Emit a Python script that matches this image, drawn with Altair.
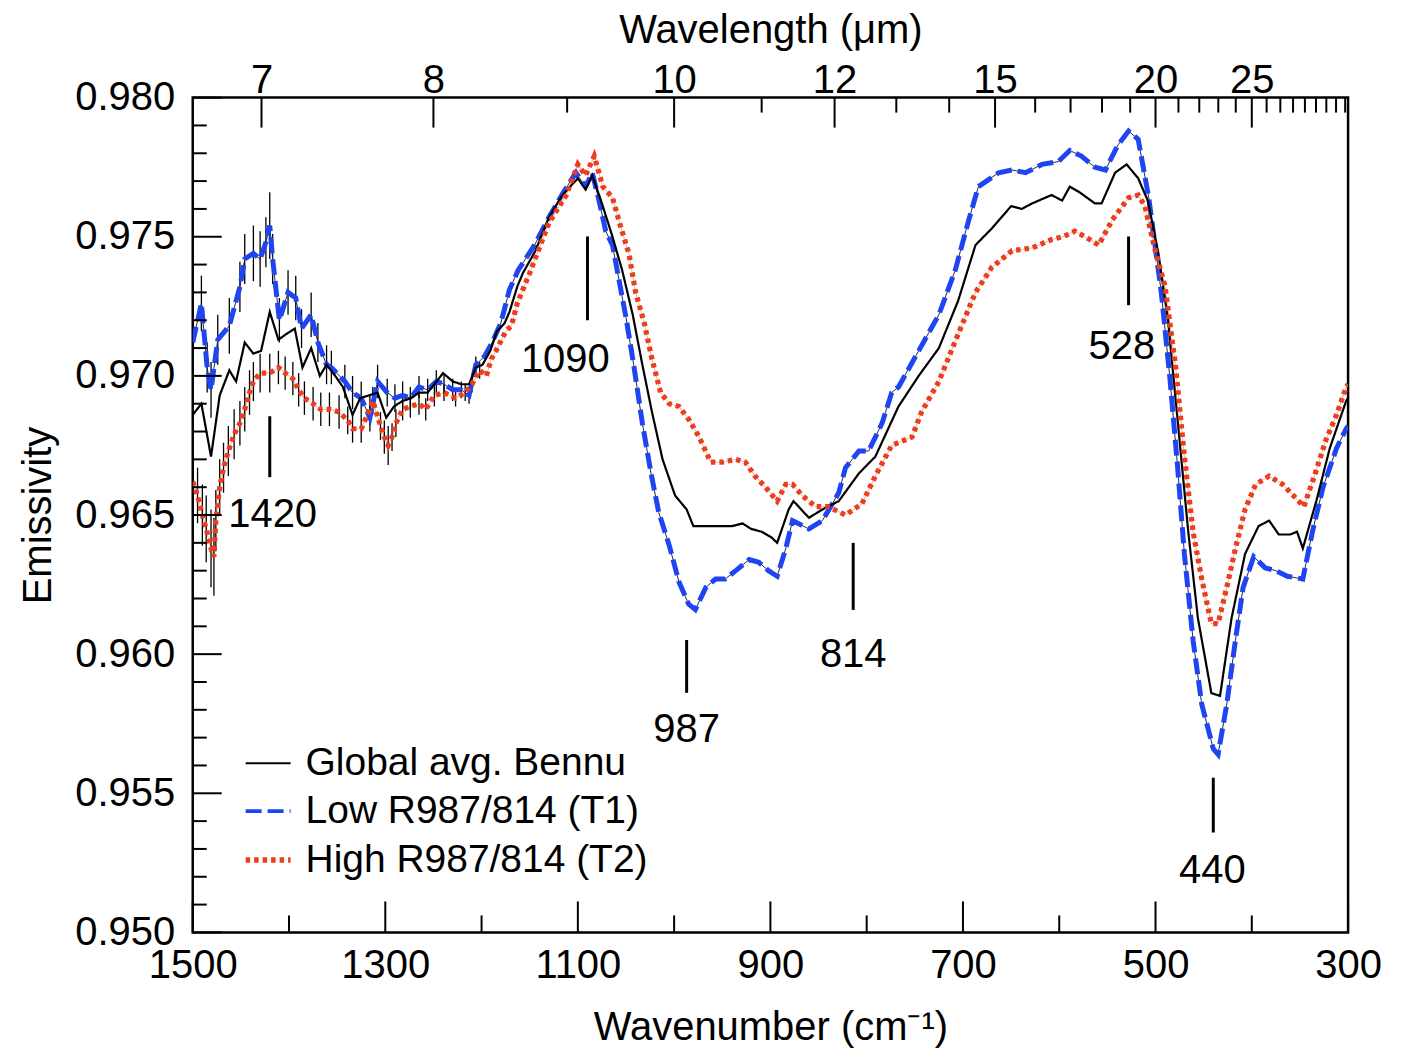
import altair as alt
import pandas as pd

FONT = "Liberation Sans"
BLUE = "#1f45f2"
RED = "#ec3d1c"

# ---------------- data ----------------
names = ["Global avg. Bennu", "Low R987/814 (T1)", "High R987/814 (T2)"]
line_widths = [2.2, 5.0, 5.2]

wn_global = [1500, 1491, 1481, 1472, 1462, 1455, 1446, 1437, 1429, 1420,
             1411, 1403, 1394, 1386, 1377, 1368, 1361, 1352, 1344, 1334,
             1326, 1317, 1308, 1299, 1291, 1282, 1273, 1265, 1256, 1249,
             1240, 1230, 1221, 1213, 1206, 1199, 1191, 1184, 1176, 1171,
             1163, 1157, 1144, 1130, 1116, 1100, 1092, 1085, 1075, 1064,
             1054, 1043, 1033, 1023, 1012, 999, 987, 980, 972, 960,
             950, 940, 929, 920, 909, 899, 893, 881, 876, 860,
             846, 829, 808, 791, 767, 746, 725, 705, 687, 670,
             650, 639, 628, 608, 597, 589, 579, 563, 556, 542,
             530, 518, 508, 497, 487, 477, 466, 456, 442, 433,
             421, 407, 393, 382, 372, 360, 353, 347, 333, 319,
             302, 300]
em_global = [0.9686, 0.9690, 0.9671, 0.9693, 0.9702, 0.9698, 0.9712, 0.9708, 0.9709, 0.9723,
             0.9713, 0.9715, 0.9717, 0.9703, 0.9710, 0.9700, 0.9704, 0.9700, 0.9696, 0.9686,
             0.9692, 0.9693, 0.9694, 0.9685, 0.9689, 0.9691, 0.9692, 0.9694, 0.9694, 0.9697,
             0.9701, 0.9698, 0.9697, 0.9697, 0.9703, 0.9704, 0.9709, 0.9716, 0.9719, 0.9723,
             0.9732, 0.9737, 0.9745, 0.9757, 0.9765, 0.9771, 0.9767, 0.9772, 0.9762, 0.9750,
             0.9738, 0.9722, 0.9704, 0.9687, 0.9670, 0.9657, 0.9652, 0.9646, 0.9646, 0.9646,
             0.9646, 0.9646, 0.9647, 0.9645, 0.9644, 0.9642, 0.9640, 0.9652, 0.9655, 0.9649,
             0.9652, 0.9655, 0.9665, 0.9671, 0.9689, 0.9700, 0.9710, 0.9727, 0.9747, 0.9753,
             0.9761, 0.9760, 0.9762, 0.9765, 0.9763, 0.9768, 0.9766, 0.9762, 0.9762, 0.9773,
             0.9776, 0.9771, 0.9763, 0.9744, 0.9720, 0.9684, 0.9644, 0.9613, 0.9586, 0.9585,
             0.9613, 0.9636, 0.9646, 0.9648, 0.9643, 0.9643, 0.9644, 0.9638, 0.9655, 0.9674,
             0.9691, 0.9692]

wn_t1 = [1500, 1491, 1485, 1481, 1474, 1462, 1451, 1446, 1437, 1430,
         1424, 1420, 1417, 1410, 1401, 1393, 1387, 1377, 1370, 1361,
         1356, 1342, 1334, 1325, 1316, 1308, 1298, 1290, 1282, 1274,
         1265, 1256, 1247, 1239, 1230, 1221, 1213, 1206, 1197, 1189,
         1180, 1171, 1162, 1145, 1130, 1115, 1102, 1092, 1085, 1078,
         1071, 1064, 1057, 1050, 1042, 1033, 1024, 1016, 1005, 995,
         985, 978, 967, 957, 947, 936, 922, 912, 902, 893,
         884, 877, 860, 846, 829, 822, 808, 798, 784, 774,
         767, 746, 725, 708, 694, 684, 663, 649, 635, 618,
         601, 589, 577, 563, 552, 539, 528, 518, 507, 494,
         485, 477, 470, 461, 452, 440, 435, 426, 417, 409,
         398, 386, 375, 363, 347, 337, 326, 312, 302, 300]
em_t1 = [0.9712, 0.9726, 0.9703, 0.9695, 0.9713, 0.9718, 0.9732, 0.9742, 0.9744, 0.9742,
         0.9748, 0.9754, 0.9742, 0.9720, 0.9730, 0.9728, 0.9717, 0.9722, 0.9712, 0.9704,
         0.9703, 0.9698, 0.9694, 0.9692, 0.9685, 0.9698, 0.9694, 0.9692, 0.9693, 0.9692,
         0.9696, 0.9695, 0.9698, 0.9697, 0.9695, 0.9695, 0.9693, 0.9704, 0.9707, 0.9712,
         0.9719, 0.9731, 0.9738, 0.9747, 0.9757, 0.9766, 0.9773, 0.9768, 0.9773, 0.9763,
         0.9752, 0.9747, 0.9734, 0.9721, 0.9704, 0.9683, 0.9665, 0.9651, 0.9639, 0.9626,
         0.9618, 0.9616, 0.9624, 0.9627, 0.9627, 0.9630, 0.9634, 0.9633, 0.9630, 0.9628,
         0.9638, 0.9648, 0.9645, 0.9648, 0.9658, 0.9667, 0.9673, 0.9673, 0.9683, 0.9694,
         0.9696, 0.9709, 0.9722, 0.9738, 0.9756, 0.9768, 0.9773, 0.9774, 0.9773, 0.9776,
         0.9777, 0.9781, 0.9779, 0.9775, 0.9774, 0.9783, 0.9788, 0.9785, 0.9764, 0.9730,
         0.9699, 0.9667, 0.9636, 0.9605, 0.9582, 0.9566, 0.9564, 0.9582, 0.9605, 0.9624,
         0.9635, 0.9631, 0.9630, 0.9628, 0.9627, 0.9644, 0.9660, 0.9674, 0.9681, 0.9682]

wn_t2 = [1500, 1495, 1490, 1486, 1481, 1478, 1476, 1472, 1468, 1463,
         1457, 1451, 1446, 1441, 1437, 1430, 1420, 1411, 1404, 1396,
         1390, 1384, 1375, 1367, 1358, 1348, 1339, 1334, 1325, 1316,
         1313, 1305, 1301, 1297, 1293, 1289, 1282, 1274, 1265, 1258,
         1249, 1239, 1227, 1217, 1210, 1202, 1195, 1190, 1185, 1175,
         1169, 1163, 1150, 1130, 1112, 1100, 1092, 1083, 1074, 1064,
         1055, 1047, 1040, 1031, 1023, 1014, 1005, 995, 984, 974,
         962, 950, 936, 926, 916, 905, 893, 884, 877, 867,
         853, 840, 822, 805, 791, 774, 753, 743, 725, 705,
         687, 670, 649, 628, 608, 596, 584, 573, 559, 545,
         528, 518, 511, 501, 490, 479, 470, 461, 452, 442,
         435, 426, 417, 407, 396, 382, 368, 354, 346, 335,
         323, 312, 302, 300]
em_t2 = [0.9662, 0.9657, 0.9650, 0.9645, 0.9638, 0.9635, 0.9648, 0.9660, 0.9667, 0.9673,
         0.9679, 0.9683, 0.9688, 0.9694, 0.9698, 0.9701, 0.9701, 0.9703, 0.9701, 0.9699,
         0.9695, 0.9692, 0.9690, 0.9688, 0.9688, 0.9687, 0.9684, 0.9681, 0.9681, 0.9688,
         0.9691, 0.9682, 0.9678, 0.9675, 0.9678, 0.9683, 0.9688, 0.9689, 0.9690, 0.9688,
         0.9693, 0.9694, 0.9692, 0.9694, 0.9697, 0.9702, 0.9700, 0.9706, 0.9709, 0.9716,
         0.9718, 0.9726, 0.9737, 0.9755, 0.9765, 0.9776, 0.9772, 0.9779, 0.9768, 0.9764,
         0.9753, 0.9744, 0.9730, 0.9719, 0.9706, 0.9694, 0.9690, 0.9689, 0.9684, 0.9678,
         0.9669, 0.9669, 0.9670, 0.9669, 0.9664, 0.9660, 0.9655, 0.9661, 0.9661, 0.9657,
         0.9653, 0.9653, 0.9650, 0.9654, 0.9664, 0.9675, 0.9678, 0.9687, 0.9698, 0.9715,
         0.9730, 0.9739, 0.9745, 0.9746, 0.9749, 0.9750, 0.9752, 0.9750, 0.9747, 0.9756,
         0.9764, 0.9765, 0.9761, 0.9746, 0.9732, 0.9703, 0.9671, 0.9644, 0.9627, 0.9611,
         0.9611, 0.9624, 0.9638, 0.9652, 0.9661, 0.9664, 0.9661, 0.9656, 0.9653, 0.9664,
         0.9677, 0.9686, 0.9696, 0.9697]

# error-bar half widths for the first points of T1 and T2 (noisy short-wavelength end)
err_t1 = [0.0010, 0.0010, 0.0009, 0.0010, 0.0009, 0.0010, 0.0009, 0.0009, 0.0010, 0.0010,
          0.0009, 0.0012, 0.0009, 0.0008, 0.0008, 0.0008, 0.0007, 0.0008, 0.0007, 0.0007,
          0.0006, 0.0006, 0.0006, 0.0006, 0.0005, 0.0006, 0.0005, 0.0005, 0.0005, 0.0004,
          0.0004, 0.0004, 0.0004, 0.0004, 0.0004, 0.0003, 0.0003, 0.0003]
err_t2 = [0.0010, 0.0010, 0.0011, 0.0012, 0.0014, 0.0014, 0.0011, 0.0010, 0.0009, 0.0009,
          0.0009, 0.0008, 0.0008, 0.0008, 0.0007, 0.0007, 0.0007, 0.0006, 0.0006, 0.0006,
          0.0006, 0.0006, 0.0006, 0.0006, 0.0006, 0.0006, 0.0005, 0.0005, 0.0005, 0.0005,
          0.0005, 0.0005, 0.0006, 0.0007, 0.0005, 0.0005, 0.0004, 0.0004, 0.0004, 0.0004,
          0.0004, 0.0003, 0.0003, 0.0003, 0.0003, 0.0003]

# band annotations
ann_label = ["1420", "1090", "987", "814", "528", "440"]
ann_wn = [1420, 1090, 987, 814, 528, 440]
ann_top = [0.96855, 0.97501, 0.96051, 0.96400, 0.97501, 0.95556]
ann_bottom = [0.96636, 0.97200, 0.95861, 0.96159, 0.97254, 0.95359]
ann_label_wn = [1417, 1113, 987, 814, 535, 441]
ann_label_em = [0.96500, 0.97056, 0.95728, 0.95998, 0.97103, 0.95219]

# axes
y_major = [0.950, 0.955, 0.960, 0.965, 0.970, 0.975, 0.980]
y_minor = [round(0.950 + 0.001 * i, 3) for i in range(31) if i % 5 != 0]
x_major = [1500, 1300, 1100, 900, 700, 500, 300]
x_minor = [1400, 1200, 1000, 800, 600, 400]
wl_major = [7, 8, 10, 12, 15, 20, 25]
wl_minor = [9, 11, 13, 14, 16, 17, 18, 19, 21, 22, 23, 24, 26, 27, 28, 29, 30, 31, 32, 33]

# ---------------- build tables ----------------
rows = []
for nm, wns, ems in [(names[0], wn_global, em_global), (names[1], wn_t1, em_t1), (names[2], wn_t2, em_t2)]:
    for i, (w, e) in enumerate(zip(wns, ems)):
        rows.append({"series": nm, "wn": w, "em": e, "idx": i})
df = pd.DataFrame(rows)

err_rows = []
for wns, ems, errs in [(wn_t1, em_t1, err_t1), (wn_t2, em_t2, err_t2)]:
    for w, e, r in zip(wns, ems, errs):
        err_rows.append({"wn": w, "lo": e - r, "hi": e + r})
df_err = pd.DataFrame(err_rows)

df_ann = pd.DataFrame({"label": ann_label, "wn": ann_wn, "top": ann_top, "bot": ann_bottom,
                       "lwn": ann_label_wn, "lem": ann_label_em})

W, H = 1157, 836
XS = alt.Scale(domain=[300, 1500], reverse=True, nice=False, zero=False)
YS = alt.Scale(domain=[0.950, 0.980], nice=False, zero=False)

leg = alt.Legend(title=None, orient="none", legendX=50, legendY=643, symbolType="stroke",
                 symbolSize=2025, labelFontSize=39, labelFont=FONT, labelColor="black",
                 labelLimit=0, rowPadding=3, labelOffset=12, padding=0)
color = alt.Color("series:N", scale=alt.Scale(domain=names, range=["black", BLUE, RED]), legend=leg)
dash = alt.StrokeDash("series:N", scale=alt.Scale(domain=names, range=[[1, 0], [16, 6], [4.5, 4]]), legend=leg)
# legend-only width scale (point scale: Global 2, T1 ~3.8, T2 ~5.6)
lwidth = alt.StrokeWidth("series:N", scale=alt.Scale(domain=names, range=[2.0, 5.6]), legend=leg)

bottom_axis = alt.Axis(values=x_major, format="d", ticks=False, domain=False, labelFontSize=40,
                       labelPadding=13, title="Wavenumber (cm⁻¹)", titleFontSize=40,
                       titleFontWeight="normal", titlePadding=22, labelFlush=False)
left_axis = alt.Axis(values=y_major, format=".3f", ticks=False, domain=False, labelFontSize=40,
                     labelPadding=18, title="Emissivity", titleFontSize=40,
                     titleFontWeight="normal", titlePadding=16, labelFlush=False)
top_axis = alt.Axis(orient="top", values=[10000 / w for w in wl_major],
                    labelExpr="round(10000 / datum.value)", ticks=False, domain=False,
                    labelFontSize=40, labelPadding=5, labelBaseline="alphabetic",
                    title="Wavelength (μm)", titleFontSize=40,
                    titleFontWeight="normal", titlePadding=10, labelFlush=False)

layers = []

# error bars (also carries the left and bottom axes)
layers.append(
    alt.Chart(df_err).mark_rule(color="black", strokeWidth=1.3, clip=True).encode(
        x=alt.X("wn:Q", scale=XS, axis=bottom_axis),
        y=alt.Y("lo:Q", scale=YS, axis=left_axis),
        y2="hi:Q",
    )
)

# legend carrier (draws nothing)
layers.append(
    alt.Chart(df).transform_filter("false").mark_line().encode(
        x=alt.X("wn:Q", scale=XS, axis=None),
        y=alt.Y("em:Q", scale=YS, axis=None),
        color=color, strokeDash=dash, strokeWidth=lwidth,
    )
)

# thin dark trace under the T1 spectrum
layers.append(
    alt.Chart(df).transform_filter(alt.datum.series == names[1])
    .mark_line(clip=True, strokeWidth=1.0, color="#2a2a3a").encode(
        x=alt.X("wn:Q", scale=XS, axis=None),
        y=alt.Y("em:Q", scale=YS, axis=None),
        order="idx:Q",
    )
)
# very faint trace under the T2 spectrum
layers.append(
    alt.Chart(df).transform_filter(alt.datum.series == names[2])
    .mark_line(clip=True, strokeWidth=0.6, color="#6a1a10", opacity=0.5).encode(
        x=alt.X("wn:Q", scale=XS, axis=None),
        y=alt.Y("em:Q", scale=YS, axis=None),
        order="idx:Q",
    )
)

# spectra (draw T1, then global, then T2)
for nm in [names[1], names[0], names[2]]:
    sw = line_widths[names.index(nm)]
    layers.append(
        alt.Chart(df).transform_filter(alt.datum.series == nm)
        .mark_line(clip=True, strokeWidth=sw).encode(
            x=alt.X("wn:Q", scale=XS, axis=None),
            y=alt.Y("em:Q", scale=YS, axis=None),
            color=color, strokeDash=dash,
            order="idx:Q",
        )
    )

# annotations
layers.append(
    alt.Chart(df_ann).mark_rule(color="black", strokeWidth=3).encode(
        x=alt.X("wn:Q", scale=XS, axis=None),
        y=alt.Y("top:Q", scale=YS, axis=None),
        y2="bot:Q",
    )
)
layers.append(
    alt.Chart(df_ann).mark_text(font=FONT, fontSize=40, color="black", align="center",
                                baseline="middle").encode(
        x=alt.X("lwn:Q", scale=XS, axis=None),
        y=alt.Y("lem:Q", scale=YS, axis=None),
        text="label:N",
    )
)

# inward ticks: left
df_ymaj = pd.DataFrame({"v": y_major})
df_ymin = pd.DataFrame({"v": y_minor})
layers.append(alt.Chart(df_ymaj).mark_rule(color="black", strokeWidth=2).encode(
    y=alt.Y("v:Q", scale=YS, axis=None), x=alt.value(0), x2=alt.value(29)))
layers.append(alt.Chart(df_ymin).mark_rule(color="black", strokeWidth=2).encode(
    y=alt.Y("v:Q", scale=YS, axis=None), x=alt.value(0), x2=alt.value(14)))

# inward ticks: bottom
df_xmaj = pd.DataFrame({"v": x_major})
df_xmin = pd.DataFrame({"v": x_minor})
layers.append(alt.Chart(df_xmaj).mark_rule(color="black", strokeWidth=2).encode(
    x=alt.X("v:Q", scale=XS, axis=None), y=alt.value(H), y2=alt.value(H - 31)))
layers.append(alt.Chart(df_xmin).mark_rule(color="black", strokeWidth=2).encode(
    x=alt.X("v:Q", scale=XS, axis=None), y=alt.value(H), y2=alt.value(H - 17)))

# inward ticks: top (wavelength), carrying the top axis labels
df_wlmaj = pd.DataFrame({"wl": wl_major, "wnp": [10000 / w for w in wl_major]})
df_wlmin = pd.DataFrame({"wl": wl_minor, "wnp": [10000 / w for w in wl_minor]})
layers.append(alt.Chart(df_wlmaj).mark_rule(color="black", strokeWidth=2).encode(
    x=alt.X("wnp:Q", scale=XS, axis=top_axis), y=alt.value(0), y2=alt.value(30)))
layers.append(alt.Chart(df_wlmin).mark_rule(color="black", strokeWidth=2).encode(
    x=alt.X("wnp:Q", scale=XS, axis=None), y=alt.value(0), y2=alt.value(15)))

chart = (
    alt.layer(*layers)
    .properties(width=W, height=H, autosize=alt.AutoSizeParams(type="none"),
                padding={"left": 185, "top": 89, "right": 50, "bottom": 117},
                background="white")
    .resolve_axis(x="independent", y="independent")
    .configure_view(stroke="black", strokeWidth=2.5)
    .configure_axis(grid=False, labelFont=FONT, titleFont=FONT, labelColor="black", titleColor="black")
)

chart.save("out.html", embed_options={"renderer": "svg", "actions": False})
